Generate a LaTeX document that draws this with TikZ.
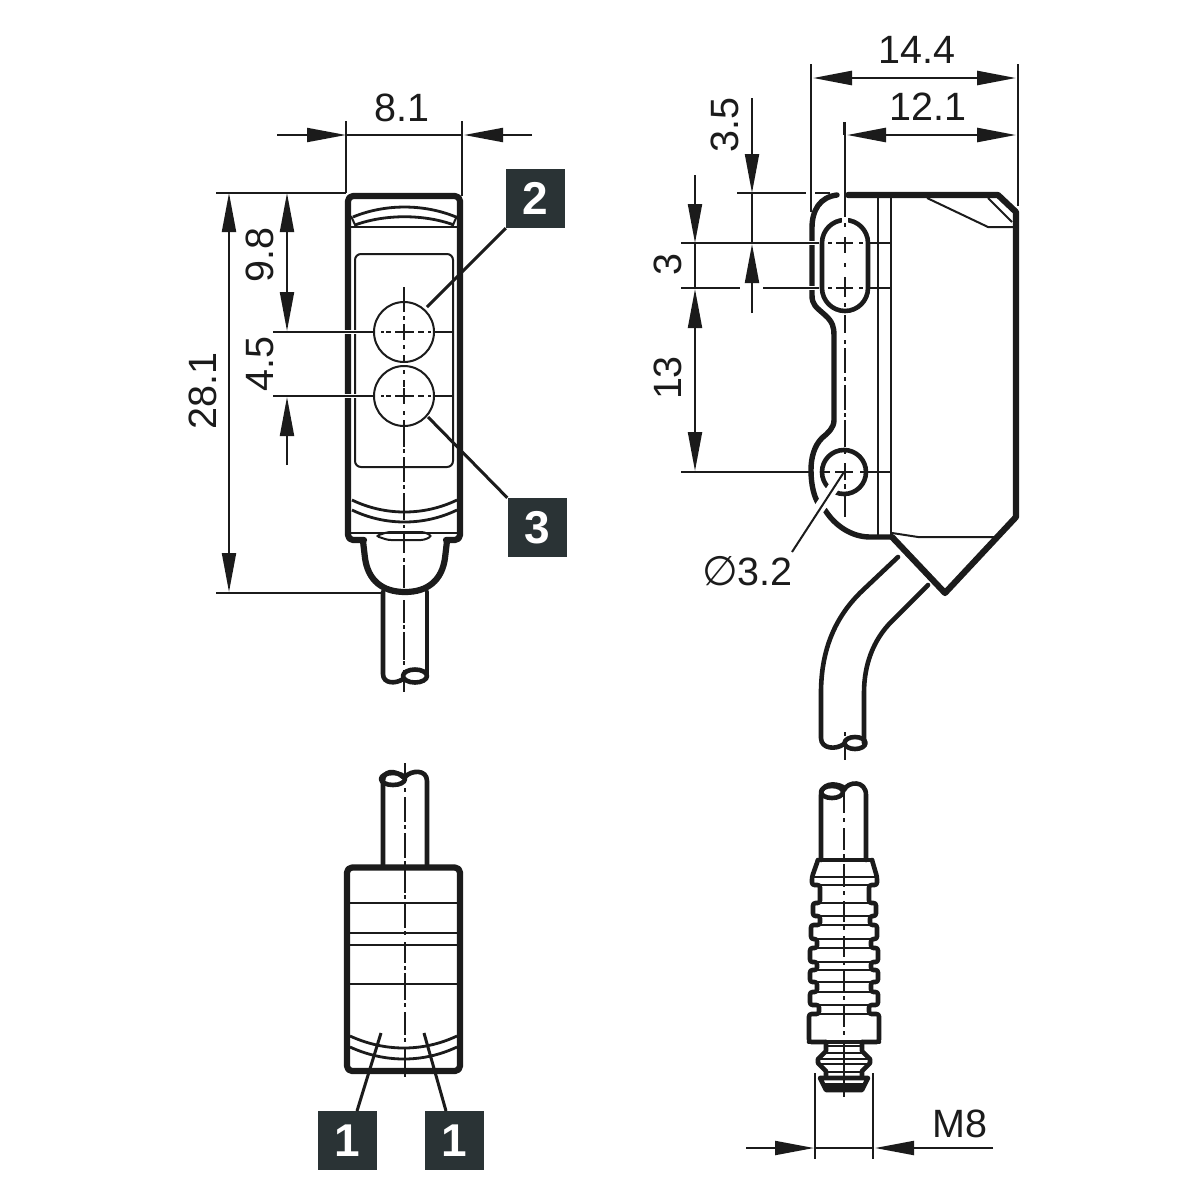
\documentclass[tikz,border=0pt]{standalone}
\usepackage{fontspec}
\setmainfont{Liberation Sans}
\newfontfamily\djv{DejaVu Sans}
\usetikzlibrary{arrows.meta}
\definecolor{ink}{HTML}{1B1B1B}
\definecolor{tag}{HTML}{2A3335}
\tikzset{
  hv/.style={draw=ink,line width=6.2pt,line join=round,line cap=round},
  md/.style={draw=ink,line width=4.6pt,line join=round,line cap=round},
  bnd/.style={draw=ink,line width=2.8pt},
  thn/.style={draw=ink,line width=2pt},
  halo/.style={draw=white,line width=4pt},
  dimn/.style={thn,-{Triangle[length=39pt,width=14pt]}},
  dimb/.style={thn,{Triangle[length=39pt,width=14pt]}-{Triangle[length=39pt,width=14pt]}},
  lbl/.style={text=ink,font=\fontsize{39.5}{39.5}\selectfont,inner sep=0pt},
  tagbox/.style={fill=tag,minimum size=59pt,inner sep=0pt,text=white,font=\fontsize{46}{46}\selectfont\bfseries},
  leader/.style={draw=ink,line width=3pt}
}
\begin{document}
\begin{tikzpicture}[x=1pt,y=-1pt]
\useasboundingbox (0,0) rectangle (1200,1200);
\fill[white] (0,0) rectangle (1200,1200);

% ---------- LEFT TOP VIEW ----------
\draw[hv,rounded corners=5pt] (364,540) -- (348,540) -- (348,196) -- (460,196) -- (460,540) -- (446,540);
\draw[bnd] (353,217) .. controls (385,203.7) and (424,203.7) .. (456,217);
\draw[bnd] (355,225) .. controls (385,214) and (424,214) .. (454,225);
\draw[thn] (351,227) -- (457,227);
\draw[thn] (351,216) -- (356,227) (457,216) -- (452,227);
\draw[thn,rounded corners=6pt] (355,467) rectangle (453,254);
\draw[bnd] (352,500) .. controls (385,516) and (424,516) .. (457,500);
\draw[bnd] (352,510) .. controls (385,526) and (424,526) .. (457,510);
\draw[thn] (351,533) -- (457,533);
\draw[thn,rounded corners=3pt] (376,536) -- (388,532) -- (424,532) -- (432,536) -- (424,540) -- (388,540) -- cycle;
% cap and cable
\draw[hv] (363,541) -- (365,558) .. controls (368,580) and (382,592) .. (405,592) .. controls (428,592) and (442,580) .. (445,558) -- (447,541);
\draw[md] (383,592) -- (383,674) .. controls (383,684) and (396,684) .. (403,679);
\draw[md] (427,592) -- (427,676);
\draw[md] (415,676) ellipse[x radius=12,y radius=6.5];
% circles
\draw[thn] (404,332) circle[radius=30];
\draw[thn] (404,396) circle[radius=30];
% walls halo + centre lines
\foreach \yy in {332,396}{
  \draw[halo] (342,\yy) -- (358,\yy);
  \draw[thn] (273,\yy) -- (375,\yy) (381,\yy) -- (384,\yy) (386,\yy) -- (391,\yy) (395,\yy) -- (414,\yy) (418,\yy) -- (424,\yy) (428,\yy) -- (431,\yy) (435,\yy) -- (452,\yy);
}
\foreach \aa/\bb in {287/312,316/320,324/340,345/349,355/362,370/374,380/387,388/404,411/415,420/447,449/453,457/482,485/489,493/520,525/528,532/553,558/562,565/588,600/623,625/629,632/660,661/665,670/692}
  \draw[thn] (404,\aa) -- (404,\bb);

% dimensions left
\draw[thn] (346,121) -- (346,193) (462,121) -- (462,196) (346,135) -- (462,135);
\draw[dimn] (277,135) -- (346,135);
\draw[dimn] (532,135) -- (464,135);
\node[lbl] (d81) at (402,108) {8.1};
\draw[thn] (216,193) -- (346,193) (216,593) -- (382,593);
\draw[dimb] (229,193) -- (229,592);
\draw[dimb] (287,193) -- (287,331);
\draw[dimn] (287,465) -- (287,397);
\node[lbl,rotate=90] (d281) at (203,391) {28.1};
\node[lbl,rotate=90] (d98) at (260,255) {9.8};
\node[lbl,rotate=90] (d45) at (260,364) {4.5};

% callouts
\node[tagbox] (b2) at (535.5,198.5) {2};
\node[tagbox] (b3) at (537,527.5) {3};
\coordinate (c2) at (427,307);
\coordinate (c3) at (428,417);
\draw[leader] (b2.south west) -- (c2);
\draw[leader] (b3.north west) -- (c3);

% ---------- LEFT BOTTOM VIEW ----------
\draw[md] (383,867) -- (383,781) .. controls (383,771) and (394,769) .. (403,777);
\draw[md] (393,779) ellipse[x radius=12,y radius=6];
\draw[md] (405,777) .. controls (411,770) and (427,769) .. (427,781) -- (427,867);
\draw[hv,rounded corners=5pt] (347,867.5) rectangle (460,1071);
\foreach \yy in {903,933,945,984} \draw[line width=2.2pt,draw=ink] (350,\yy) -- (457,\yy);
\draw[bnd] (350,1036) .. controls (385,1052) and (423,1052) .. (457,1036);
\draw[bnd] (350,1047) .. controls (385,1063) and (423,1063) .. (457,1047);
\foreach \aa/\bb in {763/778,788/792,797/822,825/829,833/858,861/865,868/893,895/899,903/928,931/935,942/963,966/970,973/1000,1003/1007,1012/1035,1038/1042,1047/1077}
  \draw[thn] (405,\aa) -- (405,\bb);
\node[tagbox] (b1a) at (347.5,1140.5) {1};
\node[tagbox] (b1b) at (454.5,1140.5) {1};
\coordinate (c1a) at (381,1033);
\coordinate (c1b) at (424,1033);
\draw[leader] (357,1111) -- (c1a);
\draw[leader] (446,1111) -- (c1b);

% ---------- RIGHT TOP VIEW ----------
% body outline
\draw[hv] (848,195) -- (998,195) -- (1016,212) -- (1016,517) -- (945,593) -- (892,537);
\draw[hv,line width=5.4pt] (837,195) .. controls (820,197) and (812,210) .. (812,228) -- (812,295) .. controls (812,305) and (816,307) .. (825,315) .. controls (833,322) and (834,328) .. (834,335) -- (834,420) .. controls (834,428) and (828,433) .. (822,438) .. controls (814,446) and (811,458) .. (811,470) .. controls (811,485) and (814,496) .. (818,503);
\draw[hv,line width=5.4pt] (825,510) .. controls (835,526) and (852,537) .. (870,537) -- (892,537);
\draw[thn] (878,197) -- (878,535) (891,197) -- (891,535);
\draw[thn] (892,533) -- (918,537) -- (995,537);
\draw[thn] (927,198) -- (988,227) -- (1013,227);
\draw[thn] (988,198) -- (1012,222);
% slot and hole
\draw[md] (822,243) arc[start angle=180,end angle=360,radius=23] -- (868,288) arc[start angle=0,end angle=180,radius=23] -- cycle;
\draw[draw=white,line width=6pt] (845,217) -- (845,223);
\draw[md] (844,472) circle[radius=22];
% halos on wall
\foreach \yy in {243,288}{
  \draw[halo,line width=3.5pt] (808,\yy) -- (816,\yy);
  \draw[thn] (808,\yy) -- (819,\yy);
  \draw[thn] (828,\yy) -- (832,\yy) (836,\yy) -- (853,\yy) (859,\yy) -- (863,\yy) (870,\yy) -- (891,\yy);
}
\draw[thn] (681,243) -- (808,243);
\draw[thn] (681,288) -- (740,288) (763,288) -- (808,288);
\draw[thn] (737,193) -- (806,193) (815,193) -- (830,193);
\draw[thn] (681,472) -- (812,472) (822,472) -- (830,472) (835,472) -- (853,472) (860,472) -- (865,472) (868,472) -- (891,472);
\foreach \aa/\bb in {122/217,223/227,237/253,263/267,277/297,303/307,315/333,340/344,348/373,377/381,385/410,413/417,420/447,450/454,463/480,484/489,494/517,732/736,746/760}
  \draw[thn] (845,\aa) -- (845,\bb);
% leader
\draw[draw=white,line width=11pt] (835,485) -- (810,522);
\draw[thn] (844,472) -- (792,552);
\node[lbl,anchor=east] (dphi) at (793,571) {{\djv\fontsize{41}{41}\selectfont ∅}3.2};
% dims right
\draw[thn] (811,64) -- (811,212) (1018,64) -- (1018,206) (844,122) -- (844,135);
\draw[dimb,line width=2.6pt] (813,78) -- (1016,78);
\draw[dimb,line width=2.6pt] (847,135) -- (1016,135);
\node[lbl] (d144) at (917,50) {14.4};
\node[lbl] (d121) at (928,107) {12.1};
\draw[dimn] (752,98) -- (752,193);
\draw[thn] (752,193) -- (752,243);
\draw[dimn] (752,313) -- (752,244);
\node[lbl,rotate=90] (d35) at (725,125) {3.5};
\draw[dimn] (695,175) -- (695,243);
\draw[thn] (695,243) -- (695,288);
\draw[dimb] (695,289) -- (695,471);
\node[lbl,rotate=90] (d3) at (668,265) {3};
\node[lbl,rotate=90] (d13) at (668,378) {13};
% cable
\draw[md] (898,557) -- (862,591) .. controls (835,617) and (821,650) .. (821,693) -- (821,738) .. controls (821,749) and (836,750) .. (844,744);
\draw[md] (928,585) -- (892,621) .. controls (873,640) and (864,665) .. (864,693) -- (864,743);
\draw[md] (855,743) ellipse[x radius=10.5,y radius=6];

% ---------- RIGHT BOTTOM VIEW ----------
\draw[md] (821,860) -- (821,795) .. controls (821,784) and (834,782) .. (843,787);
\draw[md] (832,792) ellipse[x radius=11,y radius=6];
\draw[md] (844,790) .. controls (848,781) and (866,780) .. (866,795) -- (866,860);
% connector body: side profiles with thin cross lines
\draw[md,rounded corners=2.5pt] (818,860) -- (812,877) -- (812,885) -- (820,885) -- (820,903) -- (813,903) -- (813,916) -- (820,916) -- (820,925) -- (811,925) -- (811,939) -- (817,939) -- (817,948) -- (810,948) -- (810,962) -- (817,962) -- (817,970) -- (810,970) -- (810,982) -- (817,982) -- (817,992) -- (810,992) -- (810,1005) -- (819,1005) -- (819,1014) -- (809,1014) -- (809,1042) -- (826,1042);
\draw[md,rounded corners=2.5pt] (872,860) -- (877,877) -- (877,885) -- (869,885) -- (869,903) -- (876,903) -- (876,916) -- (870,916) -- (870,925) -- (877,925) -- (877,939) -- (871,939) -- (871,948) -- (878,948) -- (878,962) -- (871,962) -- (871,970) -- (878,970) -- (878,982) -- (871,982) -- (871,992) -- (878,992) -- (878,1005) -- (869,1005) -- (869,1014) -- (879,1014) -- (879,1042) -- (862,1042);
\draw[md] (818,860) -- (872,860) (809,1042) -- (879,1042);
\foreach \yy/\xa/\xb in {877/813/876,885/813/876,903/814/875,916/814/875,925/812/876,939/812/876,948/811/877,962/811/877,970/811/877,982/811/877,992/811/877,1005/811/877,1014/810/878}
  \draw[line width=2.6pt,draw=ink] (\xa,\yy) -- (\xb,\yy);
% thread
\draw[md] (826,1042) -- (826,1051) -- (818,1059) -- (818,1063) -- (826,1071) -- (826,1077);
\draw[md] (862,1042) -- (862,1051) -- (870,1059) -- (870,1063) -- (862,1071) -- (862,1077);
\draw[thn] (826,1046) -- (862,1046) (826,1053) -- (862,1053) (820,1059) -- (868,1059) (820,1064) -- (868,1064) (826,1072) -- (862,1072);
\draw[md] (820,1078) -- (868,1078) -- (862,1090) -- (826,1090) -- cycle;
\fill[ink] (823,1083) -- (865,1083) -- (862,1090) -- (826,1090) -- cycle;
\foreach \aa/\bb in {787/813,818/822,828/850,854/858,864/887,891/895,901/922,926/930,936/957,961/965,971/992,996/1000,1006/1027,1031/1035,1041/1097}
  \draw[thn] (844,\aa) -- (844,\bb);
% M8
\draw[thn] (815,1073) -- (815,1159) (873,1073) -- (873,1159) (815,1148) -- (873,1148);
\draw[dimn] (746,1148) -- (814,1148);
\draw[dimn] (993,1148) -- (875,1148);
\node[lbl] (dm8) at (960,1124) {M8};
\end{tikzpicture}
\end{document}
